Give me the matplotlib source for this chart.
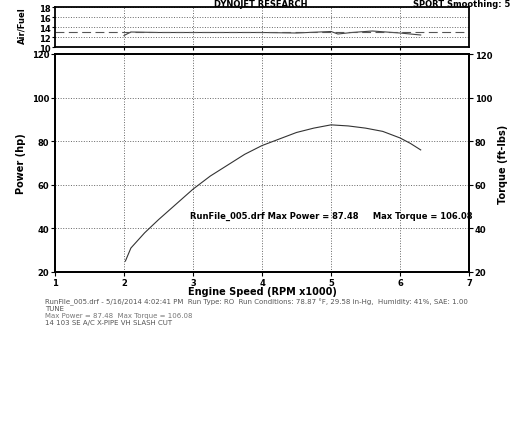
import matplotlib.pyplot as plt

rpm = [2.02, 2.1, 2.3, 2.5, 2.75, 3.0, 3.25, 3.5, 3.75, 4.0, 4.25, 4.5, 4.75, 5.0, 5.25, 5.5, 5.75, 6.0, 6.15, 6.3]
power = [25, 31, 38, 44, 51, 58, 64, 69, 74, 78, 81, 84, 86, 87.5, 87, 86, 84.5, 81.5, 79, 76]
af_rpm = [2.0, 2.1, 2.5, 3.0, 3.5, 4.0, 4.5, 5.0, 5.1, 5.3, 5.6, 6.0, 6.3]
af = [12.3, 13.0, 12.9, 12.9, 12.9, 12.9, 12.8, 13.1, 12.6, 12.9, 13.2, 12.8, 12.4]
af_target = 13.0

plt.rcParams['font.family'] = 'DejaVu Sans'
fig = plt.figure(figsize=(5.21, 4.35), dpi=100)
W, H = 521, 435
ax0 = fig.add_axes([55/W, 1-48/H, 414/W, 40/H])
ax = fig.add_axes([55/W, 1-273/H, 414/W, 218/H])

ax0.plot(af_rpm, af, color='#444', lw=0.8)
ax0.axhline(af_target, color='#555', lw=0.8, ls=(0, (8, 4)))
ax0.set_xlim(1, 7)
ax0.set_ylim(10, 18)
ax0.set_yticks([10, 12, 14, 16, 18])
ax0.set_xticks([2, 3, 4, 5, 6])
ax0.tick_params(labelbottom=False, labelsize=6, length=2, pad=1)
for lbl in ax0.get_yticklabels():
    lbl.set_fontweight('bold')
ax0.grid(True, ls=':', color='#666', lw=0.7)
ax0.set_ylabel('Air/Fuel', fontsize=6, fontweight='bold')
ax0.yaxis.set_label_coords(-0.07, 0.55)
fig.text(0.5, 1.0, 'DYNOJET RESEARCH', ha='center', va='top', fontsize=6, fontweight='bold')
fig.text(0.98, 1.0, 'SPORT Smoothing: 5', ha='right', va='top', fontsize=6, fontweight='bold')

ax.plot(rpm, power, color='#333', lw=0.8)
ax.set_xlim(1, 7)
ax.set_ylim(20, 120)
ax.set_xticks(range(1, 8))
ax.set_yticks(range(20, 121, 20))
ax.tick_params(labelsize=6, length=3, pad=1)
for lbl in ax.get_xticklabels() + ax.get_yticklabels():
    lbl.set_fontweight('bold')
ax.grid(True, ls=':', color='#666', lw=0.7)
fig.text(262/W, 1-292/H, 'Engine Speed (RPM x1000)', fontsize=7, fontweight='bold', ha='center', va='center')
ax.set_ylabel('Power (hp)', fontsize=7, fontweight='bold')
ax2 = ax.twinx()
ax2.set_ylim(20, 120)
ax2.set_yticks(range(20, 121, 20))
ax2.tick_params(labelsize=6, length=3, pad=1)
for lbl in ax2.get_yticklabels():
    lbl.set_fontweight('bold')
ax2.set_ylabel('Torque (ft-lbs)', fontsize=7, fontweight='bold')
for a in (ax0, ax, ax2):
    for s in a.spines.values():
        s.set_linewidth(1.3)

ax.text(5.0, 46, 'RunFile_005.drf Max Power = 87.48     Max Torque = 106.08',
        fontsize=6, fontweight='bold', ha='center', va='center')

fig.text(45/W, 1-302/H, 'RunFile_005.drf - 5/16/2014 4:02:41 PM  Run Type: RO  Run Conditions: 78.87 \u00b0F, 29.58 in-Hg,  Humidity: 41%, SAE: 1.00',
         fontsize=5, color='#555', va='center')
fig.text(45/W, 1-309/H, 'TUNE', fontsize=5, color='#555', va='center')
fig.text(45/W, 1-316/H, 'Max Power = 87.48  Max Torque = 106.08', fontsize=5, color='#777', va='center')
fig.text(45/W, 1-323/H, '14 103 SE A/C X-PIPE VH SLASH CUT', fontsize=5, color='#555', va='center')

fig.savefig('out.png', dpi=100)
